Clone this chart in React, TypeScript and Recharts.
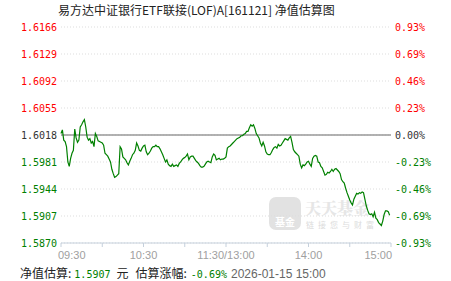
import { LineChart, Line, XAxis, YAxis, CartesianGrid, ReferenceLine } from "recharts"

// 盘中估值，每分钟一个点（午休合并，0 = 09:30，120 = 11:30/13:00，240 = 15:00）
const navs = [
  1.6020, 1.6025, 1.6011, 1.6009, 1.6002, 1.5981, 1.5975, 1.5986, 1.5993, 1.5997,
  1.6026, 1.6014, 1.6008, 1.6011, 1.6029, 1.6032, 1.6036, 1.6039, 1.6029, 1.6015,
  1.6011, 1.6013, 1.6007, 1.6009, 1.6002, 1.6020, 1.6016, 1.6010, 1.6009, 1.6008,
  1.6007, 1.6004, 1.5993, 1.5991, 1.5989, 1.5985, 1.5981, 1.5971, 1.5965, 1.5960,
  1.5961, 1.5963, 1.5965, 1.6002, 1.5999, 1.5988, 1.5986, 1.5984, 1.5980, 1.5977,
  1.5982, 1.5986, 1.5991, 1.5993, 1.5997, 1.6007, 1.6003, 1.5997, 1.5996, 1.6000,
  1.6003, 1.6004, 1.5995, 1.5991, 1.5993, 1.5996, 1.6000, 1.6002, 1.6002, 1.6004,
  1.6002, 1.6002, 1.5999, 1.5995, 1.5991, 1.5986, 1.5981, 1.5984, 1.5978, 1.5976,
  1.5975, 1.5978, 1.5975, 1.5976, 1.5977, 1.5975, 1.5979, 1.5981, 1.5984, 1.5986,
  1.5987, 1.5989, 1.5992, 1.5984, 1.5988, 1.5989, 1.5989, 1.5986, 1.5983, 1.5981,
  1.5979, 1.5976, 1.5974, 1.5974, 1.5975, 1.5978, 1.5981, 1.5982, 1.5981, 1.5980,
  1.5988, 1.5992, 1.5990, 1.5984, 1.5985, 1.5986, 1.5984, 1.5985, 1.5985, 1.5986,
  1.5988, 1.6000, 1.6002, 1.6003, 1.6005, 1.6007, 1.6009, 1.6011, 1.6013, 1.6014,
  1.6015, 1.6017, 1.6017, 1.6019, 1.6020, 1.6023, 1.6023, 1.6028, 1.6032, 1.6030,
  1.6032, 1.6027, 1.6020, 1.6017, 1.6014, 1.6007, 1.6003, 1.6008, 1.6003, 1.5995,
  1.5992, 1.5991, 1.5991, 1.5994, 1.5998, 1.6001, 1.6002, 1.6000, 1.6005, 1.6003,
  1.6004, 1.6007, 1.6010, 1.6013, 1.6012, 1.6011, 1.6014, 1.6016, 1.6008, 1.5998,
  1.5995, 1.5993, 1.5991, 1.5989, 1.5978, 1.5973, 1.5977, 1.5976, 1.5978, 1.5981,
  1.5982, 1.5978, 1.5975, 1.5986, 1.5989, 1.5990, 1.5989, 1.5981, 1.5980, 1.5975,
  1.5973, 1.5968, 1.5963, 1.5964, 1.5967, 1.5966, 1.5968, 1.5971, 1.5968, 1.5971,
  1.5972, 1.5970, 1.5968, 1.5965, 1.5957, 1.5954, 1.5952, 1.5945, 1.5939, 1.5934,
  1.5929, 1.5925, 1.5922, 1.5930, 1.5934, 1.5938, 1.5937, 1.5939, 1.5938, 1.5940,
  1.5939, 1.5930, 1.5921, 1.5915, 1.5910, 1.5909, 1.5910, 1.5906, 1.5912, 1.5904,
  1.5902, 1.5898, 1.5896, 1.5894, 1.5900, 1.5909, 1.5914, 1.5914, 1.5913, 1.5908,
]

const prevClose = 1.6018
const navTicks = [1.5870, 1.5907, 1.5944, 1.5981, 1.6018, 1.6055, 1.6092, 1.6129, 1.6166]
const pctLabels = ["-0.93%", "-0.69%", "-0.46%", "-0.23%", "0.00%", "0.23%", "0.46%", "0.69%", "0.93%"]
const timeTicks = [0, 30, 60, 90, 120, 150, 180, 210, 240]
const timeLabels: Record<number, string> = { 0: "09:30", 60: "10:30", 120: "11:30/13:00", 180: "14:00", 240: "15:00" }

const data = navs.map((v, i) => ({ t: i, nav: v }))

const mono = '"DejaVu Sans Mono", monospace'
const cjk = '"Noto Sans CJK SC", sans-serif'
const arial = '"Liberation Sans", Arial, sans-serif'
const RED = "#ff0000"
const GREEN = "#008000"

const tickColor = (v: number) => (v > prevClose + 1e-6 ? RED : v < prevClose - 1e-6 ? GREEN : "#333")

const LeftTick = (props: any) => {
  const { x, y, payload } = props
  return (
    <text x={x} y={y} dy={4} textAnchor="end" fontSize={10} fontFamily={mono} fill={tickColor(payload.value)}>
      {payload.value.toFixed(4)}
    </text>
  )
}

const RightTick = (props: any) => {
  const { x, y, payload } = props
  const i = navTicks.findIndex((n) => Math.abs(n - payload.value) < 1e-6)
  return (
    <text x={x} y={y} dy={4} textAnchor="start" fontSize={10} fontFamily={mono} fill={tickColor(payload.value)}>
      {pctLabels[i]}
    </text>
  )
}

const TimeTick = (props: any) => {
  const { x, y, payload } = props
  const label = timeLabels[payload.value]
  if (!label) return null
  const anchor = payload.value === 0 ? "start" : payload.value === 240 ? "end" : "middle"
  const dx = payload.value === 0 ? -3 : payload.value === 240 ? 1 : 0
  return (
    <text x={x + dx} y={y} dy={10} textAnchor={anchor} fontSize={11} fontFamily={arial} fill="#a0a0a0">
      {label}
    </text>
  )
}

export default function App() {
  return (
    <div style={{ position: "absolute", left: 0, top: 0, width: 451, height: 281, background: "#fff", overflow: "hidden" }}>
      <div style={{ position: "absolute", left: 58, top: 1, fontSize: 12, fontFamily: cjk, color: "#222", whiteSpace: "nowrap" }}>
        易方达中证银行ETF联接(LOF)A[161121] 净值估算图
      </div>

      {/* 天天基金 watermark */}
      <div style={{ position: "absolute", left: 269, top: 197, width: 32, height: 33, borderRadius: 7, background: "#e2e2e2" }}>
        <div style={{ position: "absolute", left: 0, right: 0, bottom: 3, textAlign: "center", fontSize: 10, lineHeight: 1, fontFamily: cjk, color: "#fff", fontWeight: 700 }}>
          基金
        </div>
      </div>
      <div style={{ position: "absolute", left: 305, top: 200, fontSize: 16, lineHeight: "16px", fontFamily: '"Noto Serif CJK SC", "Noto Sans CJK SC", serif', fontWeight: 900, color: "#e6e6e6", whiteSpace: "nowrap" }}>
        天天基金
      </div>
      <div style={{ position: "absolute", left: 306, top: 221, fontSize: 8, lineHeight: "8px", fontFamily: cjk, color: "#dcdcdc", letterSpacing: 4, whiteSpace: "nowrap" }}>
        链接您与财富
      </div>

      <div style={{ position: "absolute", left: 0, top: 0 }}>
        <LineChart width={451} height={281} data={data} margin={{ top: 27, right: 0, bottom: 18, left: 0 }}>
          <CartesianGrid yAxisId="left" vertical={false} stroke="#dddddd" strokeDasharray="1 2" />
          <XAxis
            dataKey="t"
            type="number"
            domain={[0, 240]}
            ticks={timeTicks}
            interval={0}
            height={20}
            stroke="#c5d0dc"
            tickSize={4}
            tick={<TimeTick />}
          />
          <YAxis
            yAxisId="left"
            orientation="left"
            width={61}
            domain={[navTicks[0], navTicks[navTicks.length - 1]]}
            ticks={navTicks}
            interval={0}
            axisLine={false}
            tickLine={false}
            tickSize={0}
            tickMargin={4}
            tick={<LeftTick />}
          />
          <YAxis
            yAxisId="right"
            orientation="right"
            width={60}
            domain={[navTicks[0], navTicks[navTicks.length - 1]]}
            ticks={navTicks}
            interval={0}
            axisLine={false}
            tickLine={false}
            tickSize={0}
            tickMargin={4}
            tick={<RightTick />}
          />
          <ReferenceLine yAxisId="left" y={prevClose} stroke="#999" strokeWidth={1.5} />
          {/* 右轴与左轴同一刻度，挂一条不可见的序列让它渲染 */}
          <Line
            yAxisId="right"
            type="linear"
            dataKey="nav"
            stroke="transparent"
            strokeWidth={0}
            dot={false}
            activeDot={false}
            legendType="none"
            isAnimationActive={false}
          />
          <Line
            yAxisId="left"
            type="linear"
            dataKey="nav"
            stroke={GREEN}
            strokeWidth={1.2}
            dot={false}
            isAnimationActive={false}
          />
        </LineChart>
      </div>

      <div style={{ position: "absolute", left: 20, top: 264, fontSize: 12, fontFamily: cjk, color: "#222", whiteSpace: "nowrap" }}>
        净值估算:<span style={{ color: GREEN, fontFamily: mono, fontSize: 10, marginLeft: 3 }}>1.5907</span>
        <span style={{ marginLeft: 6 }}>元</span>
        <span style={{ marginLeft: 7 }}>估算涨幅:</span>
        <span style={{ color: GREEN, fontFamily: mono, fontSize: 10, marginLeft: 4 }}>-0.69%</span>
        <span style={{ color: "#666", fontFamily: arial, fontSize: 12, marginLeft: 4 }}>2026-01-15 15:00</span>
      </div>
    </div>
  )
}
